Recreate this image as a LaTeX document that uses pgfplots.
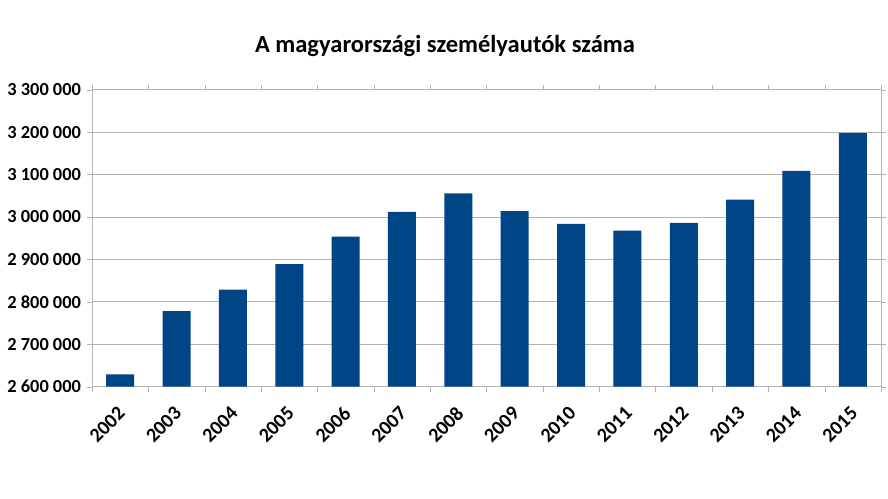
\documentclass[border=0pt]{standalone}
\usepackage{pgfplots}
\pgfplotsset{compat=1.18}
\usepackage{fontspec}
\setmainfont{Carlito}
\definecolor{barblue}{HTML}{004586}
\definecolor{gridgray}{HTML}{B3B3B3}
\begin{document}
\begin{tikzpicture}[x=1pt,y=1pt]
\path[use as bounding box] (0,0) rectangle (666,374.25);
\node[anchor=base,font=\bfseries\fontsize{18.4}{22}\selectfont] at (333.75,334.7) {A magyarországi személyautók száma};
\begin{axis}[
  at={(69pt,84.2pt)}, anchor=south west,
  scale only axis, width=591.75pt, height=222.75pt,
  xmin=-0.5, xmax=13.5,
  ymin=2600000, ymax=3300000,
  ytick={2600000,2700000,2800000,2900000,3000000,3100000,3200000,3300000},
  yticklabels={2 600 000,2 700 000,2 800 000,2 900 000,3 000 000,3 100 000,3 200 000,3 300 000},
  scaled y ticks=false,
  xtick={0,...,13},
  xticklabels={2002,2003,2004,2005,2006,2007,2008,2009,2010,2011,2012,2013,2014,2015},
  minor xtick={-0.5,0.5,...,13.5},
  major x tick style={draw=none},
  minor x tick style={draw=gridgray},
  tick align=outside,
  major tick length=3.75pt,
  minor tick length=3.75pt,
  ytick style={draw=gridgray},
  ymajorgrids,
  grid style={gridgray, line width=0.75pt},
  axis line style={gridgray, line width=0.75pt},
  yticklabel style={font=\bfseries\fontsize{13.8}{16}\selectfont, xshift=-1pt},
  xticklabel style={font=\bfseries\fontsize{15}{17}\selectfont, xshift=-2.5pt, yshift=-10pt, rotate=45, anchor=north east, inner sep=0pt},
]
\addplot[ybar, bar width=21pt, fill=barblue, draw=none] coordinates {
(0,2629000) (1,2778000) (2,2829000) (3,2889000) (4,2954000) (5,3012000) (6,3056000)
(7,3014000) (8,2984000) (9,2968000) (10,2986000) (11,3041000) (12,3109000) (13,3198000)
};
\end{axis}
\end{tikzpicture}
\end{document}
